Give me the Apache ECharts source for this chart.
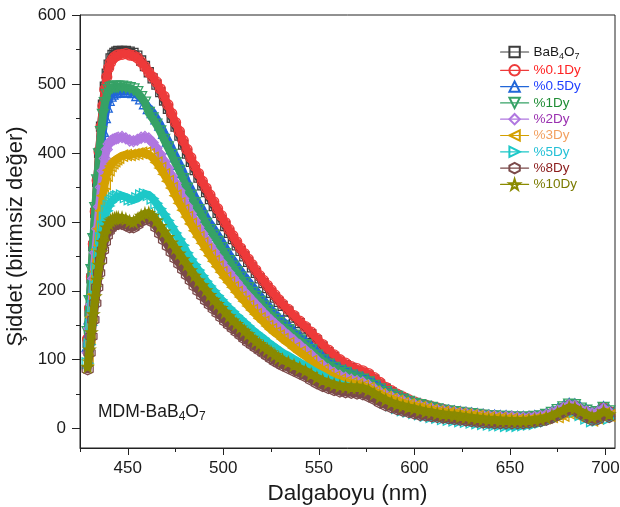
<!DOCTYPE html>
<html><head><meta charset="utf-8">
<script src="https://cdn.jsdelivr.net/npm/echarts@6/dist/echarts.min.js"></script>
<style>html,body{margin:0;padding:0;background:#fff}#c{width:620px;height:507px}</style>
</head><body><div id="c"></div>
<script>
// ---- data ----
const wavelengths = [429,430,431,432,433,434,435,436,437,438,439,440,441,442,443,444,445,
447,449,451,453,455,457,459,461,463,465,467,469,471,473,475,477,479,481,483,485,487,489,491,493,495,497,499,501,503,505,507,509,511,513,515,517,519,521,523,525,527,529,531,
534,537,540,543,546,549,552,555,558,561,564,567,570,573,576,579,582,585,588,591,594,597,600,603,606,609,612,615,618,621,624,627,630,633,636,639,642,645,648,651,654,657,660,663,666,669,672,675,678,681,684,687,690,693,696,699,702];

const bab4o7 = [125,170,218,265,313,358,400,438,470,496,515,528,537,542,545,547,548,
548,548,547,545,541,534,526,517,508,499,488,476,464,451,438,425,412,399,387,375,364,353,343,333,323,313,303,294,284,275,266,258,250,242,234,226,218,211,204,197,190,184,178,
170,161,153,145,137,128,119,111,104,97,92,88,84,81,77,71,64,58,53,48,44,40,37,34,32,30,28,26,25,24,23,22,21,20,19,18,18,17,16,16,16,15,16,16,17,19,21,24,29,33,32,27,24,21,23,29,24];

const dy01 = [130,175,220,268,315,360,402,438,468,492,510,523,531,536,539,541,542,
543,544,542,541,538,532,525,517,510,503,493,482,470,457,444,431,418,405,393,381,370,359,349,339,329,319,309,299,289,280,271,262,254,246,238,230,222,215,208,201,194,187,181,
173,164,156,148,140,131,122,114,107,100,95,90,87,84,80,74,67,60,55,50,46,42,39,36,34,32,30,28,26,25,24,23,22,21,20,19,19,18,17,17,17,16,17,17,18,20,22,25,30,34,33,28,25,22,24,30,25];

const dy05 = [120,160,200,245,290,330,370,405,432,452,467,477,483,486,488,489,489,
489,490,489,488,484,479,472,465,459,450,441,429,418,407,395,384,372,358,348,337,327,318,307,298,290,281,272,263,253,245,237,229,221,214,207,200,193,186,179,173,166,161,156,
149,140,133,126,119,111,104,97,92,87,84,79,77,74,70,65,60,54,51,47,43,40,37,35,33,31,29,27,26,25,24,23,22,21,20,19,19,18,18,17,17,17,17,18,19,21,24,28,32,36,35,30,27,23,25,31,26];

const dy1 = [140,185,230,275,320,360,398,430,455,472,484,491,494,495,496,496,496,
496,495,494,492,488,481,473,458,450,441,431,419,408,397,385,374,362,348,338,327,317,308,297,288,280,271,262,253,243,235,227,219,211,204,197,191,184,177,171,165,158,153,148,
143,135,128,121,114,106,99,93,88,84,81,77,74,71,67,62,57,53,49,46,42,39,36,34,32,30,28,26,25,24,23,22,21,20,19,18,18,17,17,16,16,16,16,17,18,20,23,27,31,35,34,29,26,22,24,30,25];

const dy2 = [110,145,180,218,255,290,322,350,374,392,405,413,417,419,420,421,422,
423,421,418,417,419,422,423,421,415,407,398,388,378,367,356,345,334,323,312,302,292,283,274,265,257,249,241,233,226,219,212,205,198,192,186,180,174,168,162,157,152,147,142,
135,128,121,114,107,99,92,86,81,77,74,71,69,67,63,58,53,49,46,43,40,37,35,33,31,29,27,26,25,24,23,22,21,20,19,18,18,17,17,17,16,16,16,17,18,20,23,26,30,34,33,28,25,22,24,29,24];

const dy3 = [100,130,162,195,228,260,290,316,338,355,367,375,381,385,388,391,393,
396,397,397,398,399,400,400,398,393,386,378,369,359,349,338,327,317,307,297,287,278,269,260,251,243,235,227,219,212,205,198,191,185,178,172,166,160,155,149,144,139,135,130,
124,117,111,105,98,91,85,79,75,71,68,66,64,62,59,54,50,46,43,40,37,35,33,31,29,27,25,24,23,22,21,20,19,18,17,16,15,15,14,14,13,13,13,14,15,16,17,17,19,22,22,18,14,12,15,22,19];

const dy5 = [95,122,150,178,206,232,256,276,293,306,316,323,328,331,334,336,337,
338,336,333,332,334,338,340,339,334,327,319,311,302,293,284,275,266,255,246,238,230,222,214,207,200,193,187,181,175,170,164,159,154,149,144,139,135,131,126,122,118,114,110,
106,101,96,91,86,81,77,72,68,65,62,60,58,56,53,48,43,38,34,30,27,25,23,21,19,17,16,14,13,12,11,10,9,8,7,6,5,5,4,4,4,5,6,7,9,11,14,18,22,26,25,20,15,11,12,18,15];

const dy8 = [86,110,134,158,182,205,226,244,259,271,280,287,291,294,296,297,297,
297,295,292,292,296,301,304,305,300,292,283,274,265,256,247,239,231,223,215,207,200,193,186,180,174,168,162,156,151,146,141,136,131,126,122,118,114,110,106,102,98,95,92,
88,84,80,76,71,66,62,59,56,54,53,52,51,50,47,43,38,34,31,28,26,24,22,20,19,18,17,16,15,14,13,12,11,10,9,9,8,8,8,8,8,8,9,10,11,13,16,20,24,28,27,22,17,13,14,20,17];

const dy10 = [90,115,140,166,192,216,238,256,271,283,292,298,302,304,305,306,306,
306,304,301,300,304,309,312,313,309,302,294,286,278,270,262,254,246,238,230,222,215,208,201,194,187,181,175,169,163,157,152,147,142,137,132,127,123,119,115,111,107,103,100,
96,92,88,84,79,74,70,67,64,62,61,60,60,59,56,51,46,42,38,35,33,31,29,27,25,24,22,21,20,19,18,17,16,15,14,13,13,12,12,11,11,11,12,13,14,16,19,23,27,31,30,25,21,17,19,25,21];

const seriesNames = ['BaB4O7','%0.1Dy','%0.5Dy','%1Dy','%2Dy','%3Dy','%5Dy','%8Dy','%10Dy'];
const seriesValues = [bab4o7, dy01, dy05, dy1, dy2, dy3, dy5, dy8, dy10];
const xMajorTicks = [450,500,550,600,650,700];
const xMinorTicks = [425,475,525,575,625,675];
const yMajorTicks = [0,100,200,300,400,500,600];
const yMinorTicks = [50,150,250,350,450,550];

// ---- styles ----
const hexPath = 'path://M0,-1L0.866,-0.5L0.866,0.5L0,1L-0.866,0.5L-0.866,-0.5Z';
const starPath = 'path://M0,-1L0.2245,-0.309L0.951,-0.309L0.363,0.118L0.588,0.809L0,0.382L-0.588,0.809L-0.363,0.118L-0.951,-0.309L-0.2245,-0.309Z';
const styles = [
  {color:'#3d3d3d', symbol:'rect', size:9, rotate:0, text:'#1a1a1a'},
  {color:'#ee3a3a', symbol:'circle', size:10, rotate:0, text:'#ff2323'},
  {color:'#2166d8', symbol:'triangle', size:11, rotate:0, text:'#2040ff'},
  {color:'#36a266', symbol:'triangle', size:11, rotate:180, text:'#1f8d35'},
  {color:'#b077e0', symbol:'diamond', size:11, rotate:0, text:'#9a30b0'},
  {color:'#d4a000', symbol:'triangle', size:11, rotate:90, text:'#f2a060'},
  {color:'#1ec8c8', symbol:'triangle', size:11, rotate:-90, text:'#25c0d6'},
  {color:'#7b4a4a', symbol:hexPath, size:11, rotate:0, text:'#8b1c1c'},
  {color:'#8a8a00', symbol:starPath, size:11, rotate:0, text:'#7a7a00'}
];
const FONT = 'Liberation Sans, Arial, Helvetica, sans-serif';
const TXT = '#1a1a1a';

const chart = echarts.init(document.getElementById('c'), null, {renderer:'canvas'});
const series = seriesValues.map((vals, i) => {
  const st = styles[i];
  return {
    name: seriesNames[i], type:'line', z: 2 + i,
    data: wavelengths.map((w, j) => [w, vals[j]]),
    symbol: st.symbol, symbolSize: st.size, symbolRotate: st.rotate,
    showSymbol: true, showAllSymbol: true,
    itemStyle: {color:'rgba(255,255,255,0)', borderColor: st.color, borderWidth: 1.3},
    lineStyle: {color: st.color, width: 8, join:'round', cap:'round'},
    emphasis: {disabled: true},
    silent: true,
    animation: false
  };
});

chart.setOption({
  animation: false,
  backgroundColor: '#fff',
  grid: {left:80, right:5, top:15, bottom:59, show:true, borderColor:'#222', borderWidth:1,
         backgroundColor:'transparent', outerBoundsMode:'none', containLabel:false},
  xAxis: [
    {type:'value', min:425, max:705, position:'bottom',
     axisLine:{show:true, onZero:false, lineStyle:{color:'#222', width:1}},
     axisTick:{show:true, inside:false, length:7, customValues:xMajorTicks, lineStyle:{color:'#222', width:1}},
     axisLabel:{show:true, customValues:xMajorTicks, margin:12, fontSize:17, color:TXT, fontFamily:FONT},
     splitLine:{show:false},
     name:'Dalgaboyu (nm)', nameLocation:'middle', nameGap:28,
     nameTextStyle:{fontSize:22.5, color:TXT, fontFamily:FONT}},
    {type:'value', min:425, max:705, position:'bottom',
     axisLine:{show:false, onZero:false},
     axisTick:{show:true, inside:false, length:4, customValues:xMinorTicks, lineStyle:{color:'#222', width:1}},
     axisLabel:{show:false}, splitLine:{show:false}}
  ],
  yAxis: [
    {type:'value', min:-28, max:600, position:'left',
     axisLine:{show:true, onZero:false, lineStyle:{color:'#222', width:1}},
     axisTick:{show:true, inside:false, length:8, customValues:yMajorTicks, lineStyle:{color:'#222', width:1}},
     axisLabel:{show:true, customValues:yMajorTicks, margin:14, fontSize:17, color:TXT, fontFamily:FONT},
     splitLine:{show:false},
     name:'Şiddet (birimsiz değer)', nameLocation:'middle', nameGap:51, nameRotate:90,
     nameTextStyle:{fontSize:22, color:TXT, fontFamily:FONT, padding:[0,10,0,0]}},
    {type:'value', min:-28, max:600, position:'left',
     axisLine:{show:false, onZero:false},
     axisTick:{show:true, inside:false, length:4, customValues:yMinorTicks, lineStyle:{color:'#222', width:1}},
     axisLabel:{show:false}, splitLine:{show:false}}
  ],
  legend: {
    orient:'vertical', left:495, top:40, itemWidth:28, itemHeight:13, itemGap:2.3,
    selectedMode:false,
    lineStyle:{width:1.2},
    data: seriesNames.map((n, i) => ({name:n, textStyle:{color:styles[i].text}})),
    formatter: n => n === 'BaB4O7' ? '{n|BaB}{s|4}{n|O}{s|7}' : n,
    textStyle:{fontSize:13.5, fontFamily:FONT,
      rich:{n:{fontSize:13.5, lineHeight:18, color:TXT, fontFamily:FONT},
            s:{fontSize:9, lineHeight:10, verticalAlign:'bottom', color:TXT, fontFamily:FONT}}}
  },
  graphic: [{
    type:'text', left:98, top:403, silent:true,
    style:{text:'{n|MDM-BaB}{s|4}{n|O}{s|7}', fill:TXT, font:'17.5px ' + FONT,
      rich:{n:{fontSize:17.5, lineHeight:21, fill:TXT, fontFamily:FONT},
            s:{fontSize:12, lineHeight:12, verticalAlign:'bottom', fill:TXT, fontFamily:FONT}}}
  }],
  series: series
});
</script></body></html>
